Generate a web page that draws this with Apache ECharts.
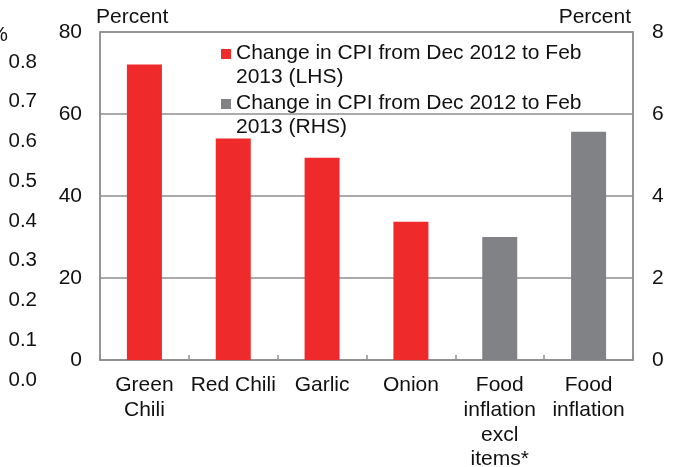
<!DOCTYPE html>
<html><head><meta charset="utf-8">
<script src="https://cdn.jsdelivr.net/npm/echarts@6/dist/echarts.min.js"></script>
<style>html,body{margin:0;padding:0;background:#fff}#c{width:674px;height:467px}</style>
</head><body><div id="c"></div>
<script>
const categories = ["Green\nChili", "Red Chili", "Garlic", "Onion", "Food\ninflation\nexcl\nitems*", "Food\ninflation"];
const lhsName = "Change in CPI from Dec 2012 to Feb 2013 (LHS)";
const rhsName = "Change in CPI from Dec 2012 to Feb 2013 (RHS)";
const lhsValues = [72.1, 54.0, 49.3, 33.7, null, null];
const rhsValues = [null, null, null, null, 3.0, 5.57];
const leftTicks = {min: 0, max: 80, interval: 20};
const rightTicks = {min: 0, max: 8, interval: 2};
const ghostTicks = {min: 0, max: 0.8, interval: 0.1};

const FONT = "'Liberation Sans', Arial, sans-serif";
const GRAY = '#8e8e90';
const TXT = '#111';
const chart = echarts.init(document.getElementById('c'), null, {renderer: 'canvas'});
const iconPath = 'path://M0,8L10,8L10,18L0,18Z M0,0L0.01,0 M0,48L0.01,48';
chart.setOption({
  animation: false,
  textStyle: {fontFamily: FONT},
  grid: [
    {left: 100, right: 41, top: 32, bottom: 107, show: true, borderColor: GRAY, borderWidth: 1.5, containLabel: false, outerBoundsMode: 'none'},
    {left: 45, width: 5, top: 62, bottom: 87, show: false, containLabel: false, outerBoundsMode: 'none'}
  ],
  legend: {
    orient: 'vertical', left: 221, top: 41, itemGap: 2, padding: 0,
    itemWidth: 10, itemHeight: 48,
    data: [{name: lhsName, icon: iconPath}, {name: rhsName, icon: iconPath}],
    formatter: n => n.replace(' 2013 (', '\n2013 ('),
    textStyle: {fontSize: 21, lineHeight: 24, color: TXT, fontFamily: FONT},
    selectedMode: false
  },
  xAxis: [
    {type: 'category', gridIndex: 0, data: categories,
     axisLine: {lineStyle: {color: GRAY, width: 1.5}},
     axisTick: {show: true, inside: true, length: 5, lineStyle: {color: GRAY, width: 1.5}},
     axisLabel: {interval: 0, fontSize: 21, lineHeight: 24.7, color: TXT, margin: 13, fontFamily: FONT}},
    {type: 'value', gridIndex: 1, min: 0, max: 1, show: false}
  ],
  yAxis: [
    {type: 'value', gridIndex: 0, min: leftTicks.min, max: leftTicks.max, interval: leftTicks.interval,
     name: 'Percent', nameLocation: 'end', nameGap: 15,
     nameTextStyle: {fontSize: 21, color: TXT, align: 'left', verticalAlign: 'middle', padding: [0, 0, 0, -4], fontFamily: FONT},
     axisLine: {show: true, lineStyle: {color: GRAY, width: 1.5}},
     axisTick: {show: false},
     splitLine: {show: true, lineStyle: {color: GRAY, width: 1.5}},
     axisLabel: {fontSize: 21, color: TXT, margin: 18, fontFamily: FONT}},
    {type: 'value', gridIndex: 0, position: 'right', min: rightTicks.min, max: rightTicks.max, interval: rightTicks.interval,
     name: 'Percent', nameLocation: 'end', nameGap: 15,
     nameTextStyle: {fontSize: 21, color: TXT, align: 'right', verticalAlign: 'middle', padding: [0, 2, 0, 0], fontFamily: FONT},
     axisLine: {show: true, lineStyle: {color: GRAY, width: 1.5}},
     axisTick: {show: false},
     splitLine: {show: false},
     axisLabel: {fontSize: 21, color: TXT, margin: 19, fontFamily: FONT}},
    {type: 'value', gridIndex: 1, min: ghostTicks.min, max: ghostTicks.max, interval: ghostTicks.interval,
     name: '%', nameLocation: 'end', nameGap: 27,
     nameTextStyle: {fontSize: 21, color: TXT, align: 'right', verticalAlign: 'middle', padding: [0, 37, 0, 0], fontFamily: FONT},
     axisLine: {show: false}, axisTick: {show: false}, splitLine: {show: false},
     axisLabel: {fontSize: 20.5, color: TXT, margin: 8, fontFamily: FONT, formatter: v => v.toFixed(1)}}
  ],
  series: [
    {name: lhsName, type: 'bar', xAxisIndex: 0, yAxisIndex: 0, data: lhsValues, barWidth: 35, barGap: '-100%',
     itemStyle: {color: '#ee2a2a'}},
    {name: rhsName, type: 'bar', xAxisIndex: 0, yAxisIndex: 1, data: rhsValues, barWidth: 35, barGap: '-100%',
     itemStyle: {color: '#808285'}},
    {type: 'scatter', xAxisIndex: 1, yAxisIndex: 2, data: [], silent: true}
  ]
});
</script></body></html>
